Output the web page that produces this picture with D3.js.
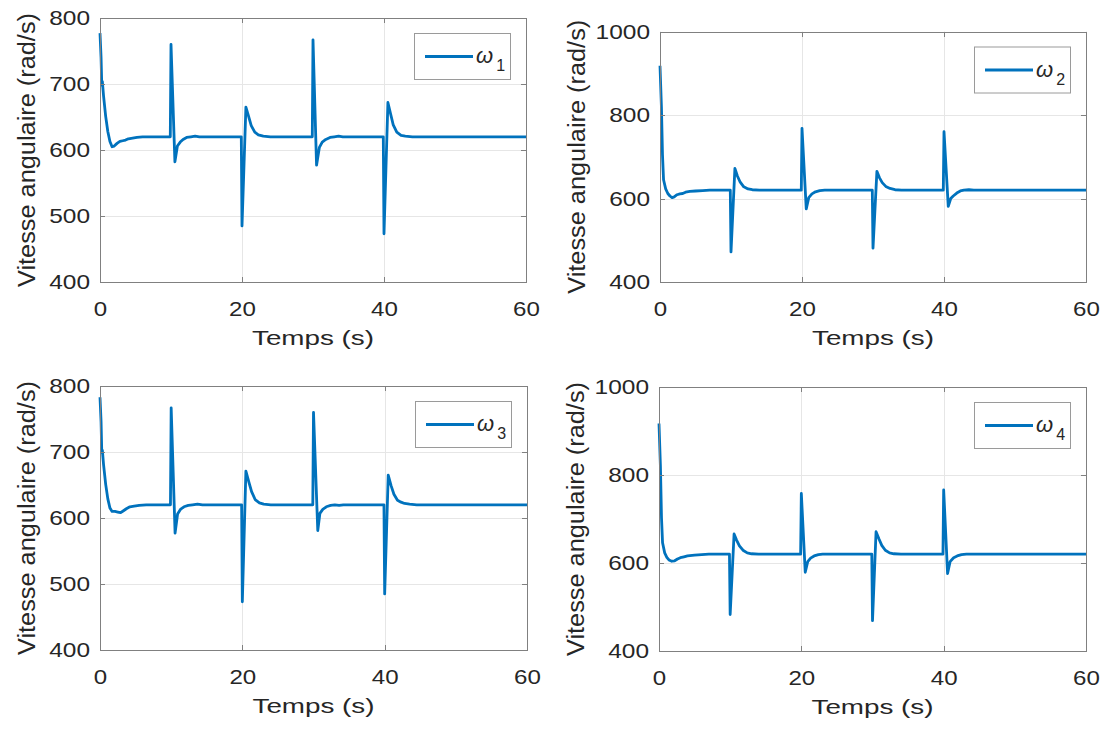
<!DOCTYPE html>
<html lang="fr">
<head>
  <meta charset="UTF-8">
  <title>Vitesse angulaire des moteurs</title>
  <script src="https://d3js.org/d3.v7.min.js"></script>
  <style>
    body { margin: 0; background: #fff; }
    svg { display: block; font-family: "Liberation Sans", Arial, sans-serif; }
    .grid line { stroke: #e6e6e6; stroke-width: 1; }
    .axis path, .axis line { stroke: #808080; stroke-width: 1; shape-rendering: crispEdges; }
    .axis text { fill: #262626; font-size: 21px; }
    .label { fill: #262626; }
    .line { fill: none; stroke: #0072bd; stroke-width: 2.8px; stroke-linejoin: round; }
  </style>
</head>
<body>
  <script>
    // tick values
    const xTicks = [0, 20, 40, 60];
    const yTicks800 = [400, 500, 600, 700, 800];
    const yTicks1000 = [400, 600, 800, 1000];

    // angular speed of each motor, [time (s), speed (rad/s)]
    const omega1 = [
      [0, 777], [0.15, 740], [0.25, 698], [0.33, 704], [0.5, 682], [0.8, 651], [1.1, 628], [1.4, 613],
      [1.7, 605], [2.0, 606], [2.4, 610], [2.8, 613], [3.2, 614], [3.6, 615], [4.0, 617], [4.6, 618],
      [5.2, 619], [6.0, 620], [9.9, 620],
      [10.0, 760], [10.55, 582], [10.9, 606], [11.3, 612], [11.7, 616], [12.2, 619], [12.8, 620],
      [13.4, 621], [14.0, 620], [19.9, 620],
      [20.0, 485], [20.55, 665], [20.9, 652], [21.3, 637], [21.8, 627], [22.3, 623], [23.0, 621],
      [24.0, 620], [29.9, 620],
      [30.0, 767], [30.5, 577], [30.9, 604], [31.3, 612], [31.8, 616], [32.4, 619], [33.0, 620],
      [33.6, 621], [34.2, 620], [39.9, 620],
      [40.0, 473], [40.55, 672], [40.9, 656], [41.3, 638], [41.8, 627], [42.4, 622], [43.0, 621],
      [44.0, 620], [60, 620]
    ];

    const omega2 = [
      [0, 918], [0.2, 820], [0.35, 705], [0.5, 645], [0.8, 623], [1.1, 612], [1.4, 606], [1.7, 602],
      [2.0, 604], [2.4, 609], [2.8, 611], [3.2, 612], [3.6, 615], [4.2, 617], [5.0, 618], [6.0, 619],
      [7.0, 620], [9.9, 620],
      [10.0, 472], [10.55, 672], [10.9, 654], [11.3, 639], [11.8, 628], [12.4, 623], [13.0, 621],
      [14.0, 620], [19.9, 620],
      [20.0, 768], [20.6, 575], [20.95, 602], [21.4, 611], [21.9, 616], [22.5, 619], [23.2, 620],
      [29.9, 620],
      [30.0, 481], [30.55, 665], [30.9, 650], [31.3, 638], [31.8, 629], [32.4, 624], [33.1, 621],
      [34.0, 620], [39.9, 620],
      [40.0, 760], [40.6, 581], [40.95, 600], [41.3, 606], [41.8, 613], [42.3, 618], [42.8, 620],
      [43.5, 621], [44.2, 620], [60, 620]
    ];

    const omega3 = [
      [0, 783], [0.15, 746], [0.25, 699], [0.33, 703], [0.5, 681], [0.8, 651], [1.1, 629], [1.4, 615],
      [1.7, 610], [2.1, 610], [2.5, 609], [2.9, 608], [3.3, 611], [3.7, 614], [4.2, 617], [4.8, 618],
      [5.5, 619], [6.5, 620], [9.9, 620],
      [10.0, 767], [10.55, 577], [10.9, 606], [11.3, 613], [11.8, 617], [12.4, 619], [13.0, 620],
      [13.7, 621], [14.4, 620], [19.9, 620],
      [20.0, 473], [20.5, 671], [20.9, 655], [21.3, 640], [21.8, 628], [22.4, 623], [23.0, 621],
      [24.0, 620], [29.9, 620],
      [30.0, 760], [30.6, 581], [30.9, 607], [31.3, 613], [31.8, 617], [32.4, 619], [33.0, 620],
      [33.6, 619], [34.2, 620], [39.9, 620],
      [40.0, 485], [40.5, 665], [40.9, 649], [41.3, 636], [41.8, 627], [42.3, 624], [42.8, 622],
      [43.5, 621], [44.5, 620], [60, 620]
    ];

    const omega4 = [
      [0, 917], [0.2, 820], [0.35, 703], [0.5, 646], [0.8, 623], [1.1, 613], [1.4, 607], [1.8, 604],
      [2.2, 605], [2.6, 609], [3.0, 612], [3.5, 614], [4.0, 616], [5.0, 618], [6.0, 619], [7.0, 620],
      [9.9, 620],
      [10.0, 483], [10.55, 666], [10.9, 652], [11.3, 639], [11.8, 629], [12.4, 623], [13.0, 621],
      [14.0, 620], [19.9, 620],
      [20.0, 758], [20.55, 579], [20.9, 603], [21.3, 611], [21.8, 616], [22.4, 619], [23.0, 620],
      [29.9, 620],
      [30.0, 469], [30.5, 671], [30.9, 655], [31.3, 640], [31.8, 629], [32.4, 623], [33.0, 621],
      [34.0, 620], [39.9, 620],
      [40.0, 766], [40.55, 576], [40.9, 603], [41.4, 612], [41.9, 616], [42.5, 619], [43.2, 620],
      [60, 620]
    ];

    const xLabel = "Temps (s)";
    const yLabel = "Vitesse angulaire (rad/s)";

    const width = 1107;
    const height = 729;

    // axes boxes of the 2x2 subplots (pixels), ylab = distance of the y label baseline from the box
    const panels = [
      {data: omega1, sub: "1", yDomain: [400, 800], yTicks: yTicks800, left: 100, right: 526, top: 18, bottom: 282, ylab: 65},
      {data: omega2, sub: "2", yDomain: [400, 1000], yTicks: yTicks1000, left: 660, right: 1086, top: 31.5, bottom: 282, ylab: 75},
      {data: omega3, sub: "3", yDomain: [400, 800], yTicks: yTicks800, left: 100, right: 527, top: 386, bottom: 650, ylab: 65},
      {data: omega4, sub: "4", yDomain: [400, 1000], yTicks: yTicks1000, left: 659, right: 1086, top: 387, bottom: 651, ylab: 75}
    ];

    const svg = d3.select("body").append("svg")
      .attr("width", width)
      .attr("height", height);

    svg.append("rect").attr("width", width).attr("height", height).attr("fill", "#fff");

    panels.forEach(p => {
      const g = svg.append("g");

      const xScale = d3.scaleLinear().domain([0, 60]).range([p.left, p.right]);
      const yScale = d3.scaleLinear().domain(p.yDomain).range([p.bottom, p.top]);

      // grid
      const grid = g.append("g").attr("class", "grid");
      grid.selectAll(".gx").data(xTicks).enter().append("line")
        .attr("x1", d => Math.round(xScale(d)) + 0.5).attr("x2", d => Math.round(xScale(d)) + 0.5)
        .attr("y1", p.top).attr("y2", p.bottom);
      grid.selectAll(".gy").data(p.yTicks).enter().append("line")
        .attr("y1", d => Math.round(yScale(d)) + 0.5).attr("y2", d => Math.round(yScale(d)) + 0.5)
        .attr("x1", p.left).attr("x2", p.right);

      // data line
      const line = d3.line()
        .x(d => xScale(d[0]))
        .y(d => yScale(d[1]));

      g.append("path")
        .datum(p.data)
        .attr("class", "line")
        .attr("d", line);

      // box with inward ticks on all four sides
      g.append("g").attr("class", "axis")
        .attr("transform", `translate(0, ${p.bottom})`)
        .call(d3.axisBottom(xScale).tickValues(xTicks).tickSizeInner(-5).tickSizeOuter(0)
          .tickPadding(19.5).tickFormat(d3.format("d")))
        .selectAll("text")
          .attr("textLength", d => String(d).length * 13.4)
          .attr("lengthAdjust", "spacingAndGlyphs");

      g.append("g").attr("class", "axis")
        .attr("transform", `translate(0, ${p.top})`)
        .call(d3.axisTop(xScale).tickValues(xTicks).tickSizeInner(-5).tickSizeOuter(0).tickFormat(""));

      g.append("g").attr("class", "axis")
        .attr("transform", `translate(${p.left}, 0)`)
        .call(d3.axisLeft(yScale).tickValues(p.yTicks).tickSizeInner(-5).tickSizeOuter(0)
          .tickPadding(10).tickFormat(d3.format("d")))
        .selectAll("text")
          .attr("textLength", d => String(d).length * 13.6)
          .attr("lengthAdjust", "spacingAndGlyphs");

      g.append("g").attr("class", "axis")
        .attr("transform", `translate(${p.right}, 0)`)
        .call(d3.axisRight(yScale).tickValues(p.yTicks).tickSizeInner(-5).tickSizeOuter(0).tickFormat(""));

      // axis labels
      g.append("text")
        .attr("class", "label")
        .attr("x", (p.left + p.right) / 2)
        .attr("y", p.bottom + 63)
        .attr("text-anchor", "middle")
        .attr("font-size", 20)
        .attr("textLength", 122)
        .attr("lengthAdjust", "spacingAndGlyphs")
        .text(xLabel);

      g.append("text")
        .attr("class", "label")
        .attr("transform", `translate(${p.left - p.ylab}, ${(p.top + p.bottom) / 2}) rotate(-90)`)
        .attr("text-anchor", "middle")
        .attr("font-size", 23)
        .attr("textLength", 274)
        .attr("lengthAdjust", "spacingAndGlyphs")
        .text(yLabel);

      // legend (north east)
      const lx = p.right - 112;
      const ly = p.top + 15;
      const legend = g.append("g").attr("transform", `translate(${lx}, ${ly})`);
      legend.append("rect")
        .attr("x", 0.5).attr("y", 0.5)
        .attr("width", 96).attr("height", 46)
        .attr("fill", "#fff")
        .attr("stroke", "#9a9a9a");
      legend.append("line")
        .attr("x1", 11).attr("x2", 59)
        .attr("y1", 23.5).attr("y2", 23.5)
        .attr("stroke", "#0072bd")
        .attr("stroke-width", 2.8);
      const lt = legend.append("text")
        .attr("x", 62)
        .attr("y", 30)
        .attr("fill", "#262626");
      lt.append("tspan")
        .attr("font-size", 22)
        .attr("font-style", "italic")
        .text("ω");
      lt.append("tspan")
        .attr("font-size", 16)
        .attr("dx", 3)
        .attr("dy", 8)
        .text(p.sub);
    });
  </script>
</body>
</html>
